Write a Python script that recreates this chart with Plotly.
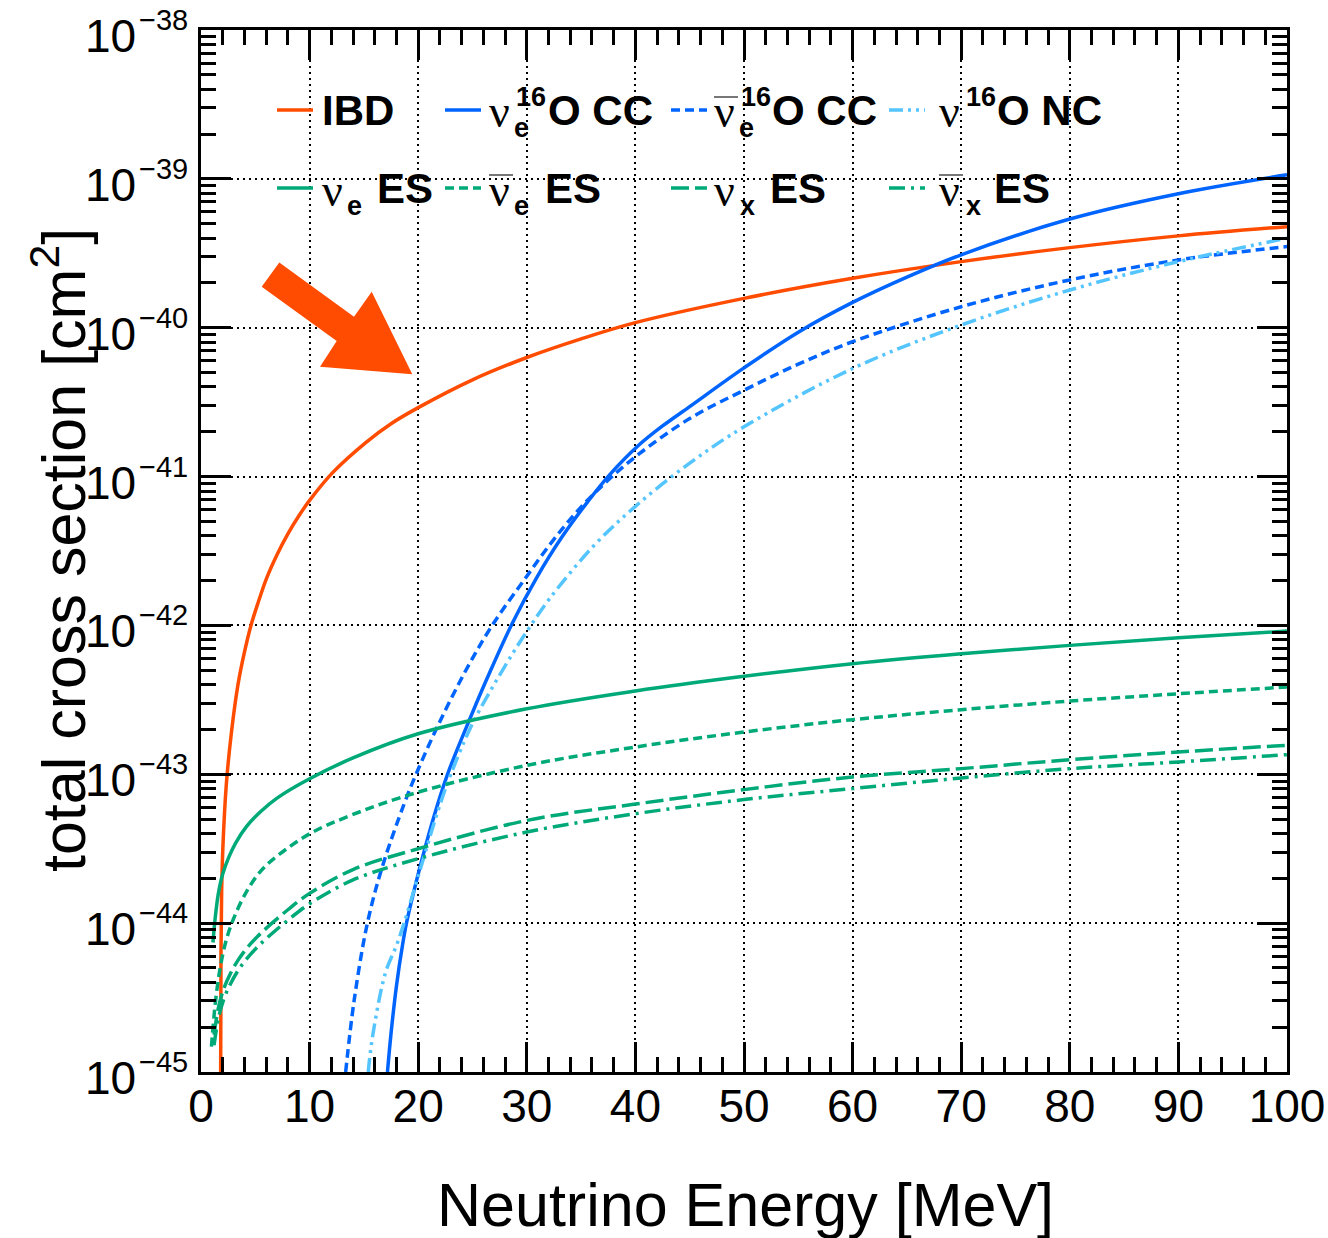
import plotly.graph_objects as go

# ---------------- data (cross sections as log10(sigma / cm^2)) ----------------
E_ibd = [1.81, 1.84, 1.9, 2.0, 2.33, 2.8, 3.4, 4.0, 4.6, 5.2, 6.0, 7.0, 8.0, 9.0, 10, 12.1, 15.2, 17.5, 20,
         25, 30, 35, 40, 50, 60, 70, 80, 90, 100]
L_ibd = [-45.0, -44.2, -43.8, -43.52, -43.07, -42.72, -42.40, -42.18, -42.0, -41.86, -41.69, -41.525,
         -41.385, -41.265, -41.16, -40.975, -40.77, -40.645, -40.537, -40.35, -40.2, -40.075, -39.966,
         -39.803, -39.668, -39.556, -39.462, -39.383, -39.321]

E_nueO = [17.17, 17.5, 18.0, 18.55, 18.92, 20.0, 21.3, 22.7, 24.8, 26.5, 28.7, 30.9, 33.2, 35.6, 37.6, 40.3,
          42.5, 45, 50, 55, 60, 65, 70, 80, 90, 100]
L_nueO = [-45.0, -44.74, -44.42, -44.15, -44.0, -43.67, -43.32, -43.0, -42.62, -42.33, -41.98, -41.68,
          -41.41, -41.17, -40.99, -40.79, -40.66, -40.53, -40.27, -40.03, -39.83, -39.66, -39.51, -39.27,
          -39.10, -38.973]

E_nuebO = [13.32, 14.1, 15.32, 16.7, 18.7, 19.8, 21.9, 24.55, 26.9, 29.8, 32.3, 34.8, 37.4, 40.3, 45, 50, 55,
           60, 70, 80, 90, 100]
L_nuebO = [-45.0, -44.52, -44.0, -43.62, -43.2, -43.0, -42.66, -42.28, -41.99, -41.69, -41.44, -41.22,
           -41.03, -40.85, -40.61, -40.42, -40.245, -40.094, -39.859, -39.679, -39.545, -39.455]

E_nc = [15.4, 15.8, 17.0, 18.0, 18.7, 20.1, 21.8, 23.0, 25.0, 28.1, 30.1, 32.1, 36.1, 40.0, 45, 50, 60, 70,
        80, 90, 100]
L_nc = [-45.0, -44.76, -44.33, -44.15, -44.0, -43.66, -43.25, -43.0, -42.66, -42.26, -42.03, -41.82,
        -41.47, -41.2, -40.91, -40.666, -40.274, -39.982, -39.747, -39.556, -39.399]

E_es_e = [1.1, 1.3, 1.6, 2.0, 2.6, 3.2, 4.2, 5.5, 7.0, 10, 14, 20, 30, 40, 50, 60, 70, 80, 90, 100]
L_es_e = [-44.13, -43.97, -43.8, -43.67, -43.55, -43.46, -43.35, -43.25, -43.16, -43.03, -42.89, -42.728,
          -42.56, -42.44, -42.342, -42.257, -42.19, -42.134, -42.083, -42.038]

E_es_eb = [0.96, 1.3, 1.72, 2.3, 3.0, 4.18, 5.5, 7.0, 10, 14, 20, 30, 40, 50, 60, 70, 80, 90, 100]
L_es_eb = [-44.83, -44.55, -44.32, -44.12, -43.97, -43.79, -43.65, -43.55, -43.40, -43.27, -43.12, -42.94,
           -42.817, -42.716, -42.633, -42.566, -42.508, -42.459, -42.414]

E_es_x = [1.2, 1.6, 2.1, 2.7, 3.4, 4.2, 5.2, 6.3, 8.0, 10, 14, 20, 30, 40, 50, 60, 70, 80, 90, 100]
L_es_x = [-44.75, -44.57, -44.44, -44.34, -44.25, -44.17, -44.09, -44.015, -43.91, -43.80, -43.64, -43.5,
          -43.31, -43.2, -43.103, -43.018, -42.962, -42.902, -42.85, -42.805]

E_es_xb = [1.2, 1.6, 2.1, 2.7, 3.4, 4.2, 5.2, 6.3, 8.0, 10, 14, 20, 30, 40, 50, 60, 70, 80, 90, 100]
L_es_xb = [-44.82, -44.64, -44.51, -44.41, -44.32, -44.24, -44.16, -44.085, -43.98, -43.87, -43.71, -43.567,
           -43.388, -43.265, -43.17, -43.096, -43.025, -42.962, -42.917, -42.868]

x_ticks = [0, 10, 20, 30, 40, 50, 60, 70, 80, 90, 100]
y_exps = [-45, -44, -43, -42, -41, -40, -39, -38]

# ---------------- styling ----------------
ORANGE = "#FF4C00"
BLUE = "#0064FF"
LBLUE = "#55C5FF"
GREEN = "#00AA78"
LW = 3.5

D_SHORT = "9px,5px"
D_LONG = "18px,6px"
D_DASHDOT = "16px,6px,3px,6px"
D_DDD = "14px,5px,3px,5px,3px,5px"

# page geometry (the page body margin is removed by a post script, so figure = page)
W, H = 1328, 1238
L, R, T, B = 201, 1287, 30, 1072   # plot-area edges in page pixels


def px(xp):
    return (xp - L) / (R - L)


def py(yp):
    return (B - yp) / (B - T)


series = [
    ("IBD", E_ibd, L_ibd, ORANGE, "solid"),
    ("νe 16O CC", E_nueO, L_nueO, BLUE, "solid"),
    ("anti-νe 16O CC", E_nuebO, L_nuebO, BLUE, D_SHORT),
    ("ν 16O NC", E_nc, L_nc, LBLUE, D_DDD),
    ("νe ES", E_es_e, L_es_e, GREEN, "solid"),
    ("anti-νe ES", E_es_eb, L_es_eb, GREEN, D_SHORT),
    ("νx ES", E_es_x, L_es_x, GREEN, D_LONG),
    ("anti-νx ES", E_es_xb, L_es_xb, GREEN, D_DASHDOT),
]

fig = go.Figure()
for name, xs, logs, col, dash in series:
    fig.add_trace(go.Scatter(
        x=xs, y=[10.0 ** v for v in logs], mode="lines", name=name, showlegend=False,
        line=dict(color=col, width=LW, dash=dash, shape="spline", smoothing=1.0),
        cliponaxis=True,
    ))

FONT = "Liberation Sans"
TICKF = 46
fig.update_layout(
    width=W, height=H,
    margin=dict(l=L, r=W - R, t=T, b=H - B, pad=0, autoexpand=False),
    paper_bgcolor="white", plot_bgcolor="white",
    font=dict(family=FONT, color="black", size=42),
)

GRID_DASH = "2px,4px"
fig.update_xaxes(
    range=[0, 100], tickvals=x_ticks, ticktext=[str(v) for v in x_ticks],
    ticks="inside", ticklen=30, tickwidth=3, tickcolor="black",
    minor=dict(dtick=2, tick0=0, ticks="inside", ticklen=15, tickwidth=3, tickcolor="black", showgrid=False),
    showline=True, linecolor="black", linewidth=3, mirror="ticks",
    showgrid=True, gridcolor="black", gridwidth=2, griddash=GRID_DASH,
    tickfont=dict(family=FONT, size=TICKF), ticklabelstandoff=-8, ticklabeloverflow="allow",
    zeroline=False, automargin=False,
)

minor_vals = [k * 10.0 ** e for e in range(-45, -38) for k in range(2, 10)]
fig.update_yaxes(
    type="log", range=[-45, -38],
    tickvals=[10.0 ** e for e in y_exps],
    showticklabels=False,
    ticks="inside", ticklen=30, tickwidth=3, tickcolor="black",
    minor=dict(tickvals=minor_vals, ticks="inside", ticklen=15, tickwidth=3, tickcolor="black", showgrid=False),
    showline=True, linecolor="black", linewidth=3, mirror="ticks",
    showgrid=True, gridcolor="black", gridwidth=2, griddash=GRID_DASH,
    zeroline=False, automargin=False,
)

ann = []
shapes = []

# y tick labels (ROOT-style 10^-n, placed on the log axis)
for e in y_exps:
    ann.append(dict(text="10", xref="paper", yref="y", x=px(138), y=e, yshift=-6,
                    xanchor="right", yanchor="middle", showarrow=False,
                    font=dict(size=TICKF, family=FONT)))
    ann.append(dict(text="−%d" % (-e), xref="paper", yref="y", x=px(137), y=e, yshift=10,
                    xanchor="left", yanchor="middle", showarrow=False,
                    font=dict(size=29, family=FONT)))

# axis titles
ann.append(dict(text="Neutrino Energy [MeV]", xref="paper", yref="paper", x=px(745), y=py(1205),
                xanchor="center", yanchor="middle", showarrow=False, font=dict(size=61, family=FONT)))
ann.append(dict(text="total cross section [cm<sup>2</sup>]", xref="paper", yref="paper", x=px(59), y=py(550),
                xanchor="center", yanchor="middle", showarrow=False, textangle=-90,
                font=dict(size=61, family=FONT)))

# arrow annotation (block arrow)
arrow_pts = [(279.3, 262.4), (354, 316.7), (371.7, 291.7), (412.3, 374.3), (320, 366.7), (336.7, 341), (261.7, 286.7)]
path = "M " + " L ".join("%.5f,%.5f" % (px(a), py(b)) for a, b in arrow_pts) + " Z"
shapes.append(dict(type="path", xref="paper", yref="paper", path=path, fillcolor=ORANGE,
                   line=dict(color=ORANGE, width=0), layer="above"))

# legend (ROOT style)
GREEK = "Liberation Serif"
BIG = 42
SMALL = 27
rows = {1: 110, 2: 188}
entries = [
    # row, sample x0, x1, color, dash, nu_x, bar, sub, sub_x, sup, sup_x, rest, rest_x
    (1, 277, 313, ORANGE, "solid", None, False, None, None, None, None, "IBD", 320),
    (1, 445, 481, BLUE, "solid", 487, False, "e", 512, "16", 514, "O CC", 546),
    (1, 671, 707, BLUE, D_SHORT, 712, True, "e", 737, "16", 739, "O CC", 770),
    (1, 889, 925, LBLUE, D_DDD, 937, False, None, None, "16", 964, "O NC", 995),
    (2, 277, 313, GREEN, "solid", 320, False, "e", 345, None, None, "ES", 375),
    (2, 445, 481, GREEN, D_SHORT, 487, True, "e", 512, None, None, "ES", 543),
    (2, 671, 707, GREEN, D_LONG, 712, False, "x", 738, None, None, "ES", 768),
    (2, 889, 925, GREEN, D_DASHDOT, 937, True, "x", 964, None, None, "ES", 992),
]
for row, s0, s1, col, dash, nux, bar, sub, subx, sup, supx, rest, restx in entries:
    yc = rows[row]
    shapes.append(dict(type="line", xref="paper", yref="paper", x0=px(s0), x1=px(s1), y0=py(yc), y1=py(yc),
                       line=dict(color=col, width=LW, dash=dash), layer="above"))
    if nux is not None:
        ann.append(dict(text="ν", xref="paper", yref="paper", x=px(nux), y=py(yc + 2), xanchor="left",
                        yanchor="middle", showarrow=False, font=dict(size=BIG + 4, family=GREEK)))
        if bar:
            shapes.append(dict(type="line", xref="paper", yref="paper", x0=px(nux + 2), x1=px(nux + 26),
                               y0=py(yc - 13), y1=py(yc - 13), line=dict(color="#777777", width=2), layer="above"))
    if sub:
        ann.append(dict(text="<b>%s</b>" % sub, xref="paper", yref="paper", x=px(subx), y=py(yc + 18),
                        xanchor="left", yanchor="middle", showarrow=False, font=dict(size=SMALL, family=FONT)))
    if sup:
        ann.append(dict(text="<b>%s</b>" % sup, xref="paper", yref="paper", x=px(supx), y=py(yc - 13),
                        xanchor="left", yanchor="middle", showarrow=False, font=dict(size=SMALL, family=FONT)))
    ann.append(dict(text="<b>%s</b>" % rest, xref="paper", yref="paper", x=px(restx), y=py(yc),
                    xanchor="left", yanchor="middle", showarrow=False, font=dict(size=BIG, family=FONT)))

fig.update_layout(annotations=ann, shapes=shapes)
fig.write_html("out.html", config={"displayModeBar": False},
               post_script="document.body.style.margin='0px';")
